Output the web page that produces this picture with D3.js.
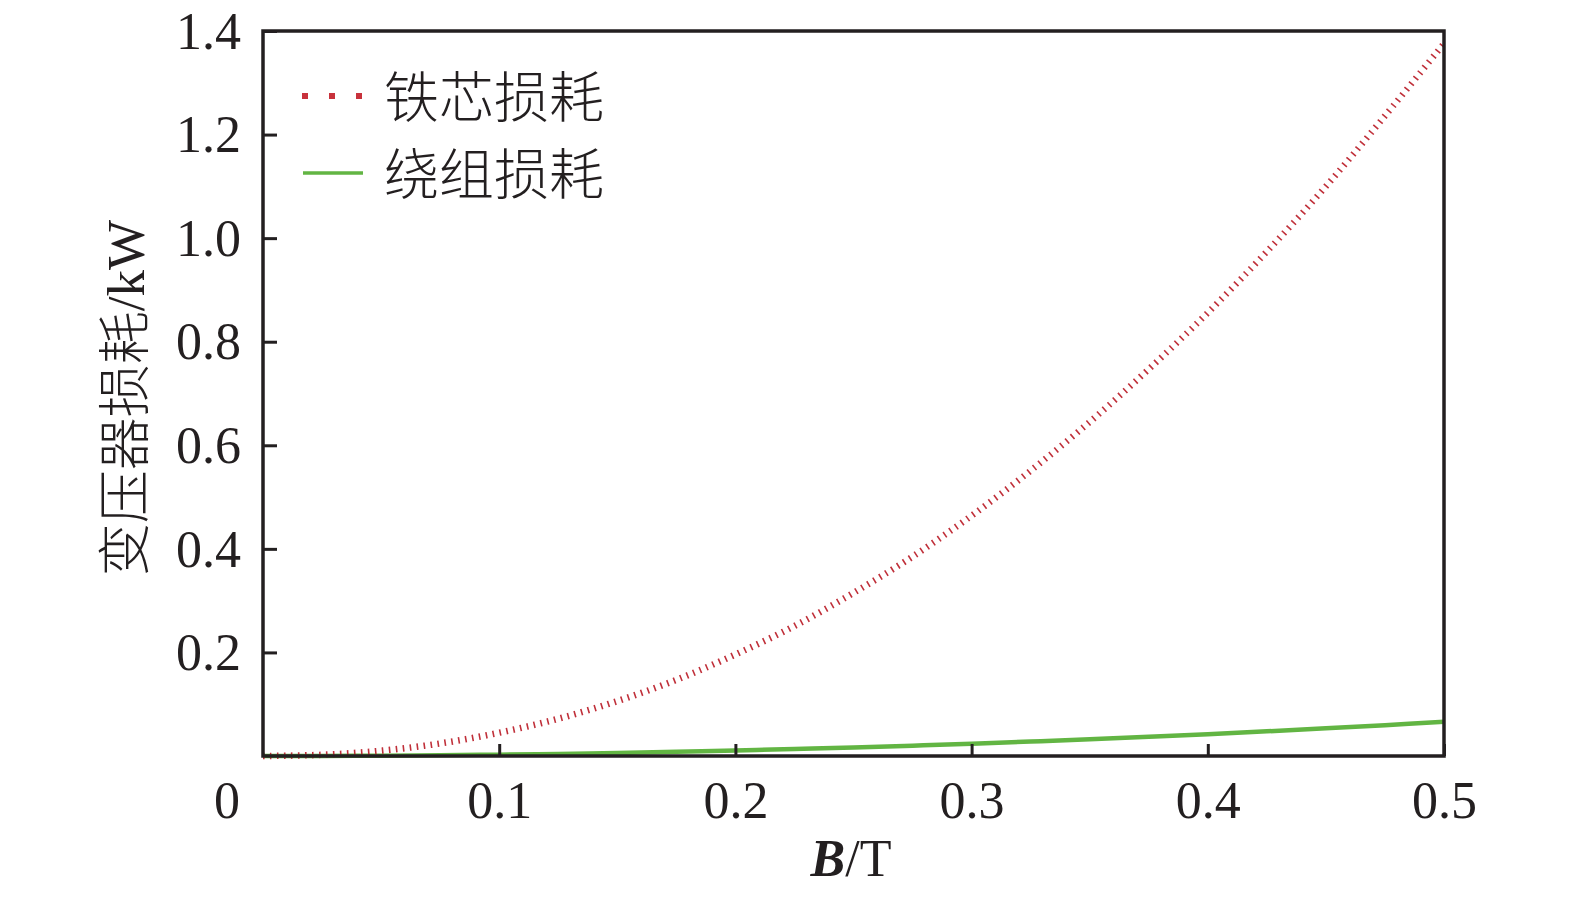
<!DOCTYPE html>
<html><head><meta charset="utf-8">
<script src="https://cdn.jsdelivr.net/npm/d3@7"></script>
<style>body{margin:0;background:#fff}</style>
</head><body>
<svg id="c" width="1575" height="898"></svg>
<script>
const B = [0,0.025,0.05,0.075,0.1,0.125,0.15,0.175,0.2,0.225,0.25,0.275,0.3,0.325,0.35,0.375,0.4,0.425,0.45,0.475,0.5];
const ironLoss = [0,0.0023,0.0102,0.0242,0.045,0.0719,0.106,0.147,0.196,0.251,0.315,0.385,0.464,0.551,0.645,0.747,0.856,0.974,1.100,1.236,1.376];
const windingLoss = [0,0.0002,0.0007,0.0015,0.0026,0.0041,0.0059,0.0081,0.0106,0.0134,0.0165,0.020,0.0238,0.0279,0.0323,0.0371,0.0422,0.0477,0.0535,0.0596,0.066];
const xTicks = [0.1,0.2,0.3,0.4,0.5];
const yTicks = [0.2,0.4,0.6,0.8,1.0,1.2,1.4];
const legendLabels = ["铁芯损耗","绕组损耗"];

const svg = d3.select("#c");
const L=263,R=1444,T=31,Bt=756;
const x = d3.scaleLinear().domain([0,0.5]).range([L,R]);
const y = d3.scaleLinear().domain([0,1.4]).range([Bt,T]);
const serif = "'Liberation Serif','Times New Roman',serif";
const cjk = "'Noto Sans CJK SC',sans-serif";

// curves
const line = d3.line().x((d,i)=>x(B[i])).y(d=>y(d)).curve(d3.curveCatmullRom);
svg.append("path").attr("d",line(windingLoss)).attr("fill","none")
  .attr("stroke","#62b543").attr("stroke-width",4.5);
svg.append("path").attr("d",line(ironLoss)).attr("fill","none")
  .attr("stroke","#c0303a").attr("stroke-width",6.5).attr("stroke-dasharray","1.6,5.4");

// axes
const xAxis = d3.axisBottom(x).tickValues(xTicks).tickSize(-12).tickFormat(d3.format(".1f")).tickPadding(0);
const gx = svg.append("g").attr("transform",`translate(0,${Bt})`).call(xAxis);
gx.select(".domain").remove();
gx.selectAll(".tick line").attr("stroke","#231f20").attr("stroke-width",3);
gx.selectAll(".tick text").attr("font-family",serif).attr("font-size",52).attr("fill","#231f20")
  .attr("y",0).attr("dy",62);

const yAxis = d3.axisLeft(y).tickValues(yTicks).tickSize(-14).tickFormat(d3.format(".1f"));
const gy = svg.append("g").attr("transform",`translate(${L},0)`).call(yAxis);
gy.select(".domain").remove();
gy.selectAll(".tick line").attr("stroke","#231f20").attr("stroke-width",3);
gy.selectAll(".tick text").attr("font-family",serif).attr("font-size",52).attr("fill","#231f20")
  .attr("x",-22).attr("dy","0.33em");

svg.append("text").attr("x",227).attr("y",Bt+62).attr("text-anchor","middle")
  .attr("font-family",serif).attr("font-size",52).attr("fill","#231f20").text("0");

// frame
svg.append("rect").attr("x",L).attr("y",T).attr("width",R-L).attr("height",Bt-T)
  .attr("fill","none").attr("stroke","#231f20").attr("stroke-width",3.5);

// axis titles
const xt = svg.append("text").attr("x",851).attr("y",876).attr("text-anchor","middle")
  .attr("font-family",serif).attr("font-size",52).attr("fill","#231f20");
xt.append("tspan").attr("font-weight","bold").attr("font-style","italic").text("B");
xt.append("tspan").text("/T");

const yt = svg.append("text").attr("transform","translate(144,398) rotate(-90)")
  .attr("text-anchor","middle").attr("fill","#231f20").attr("font-size",53);
yt.append("tspan").attr("font-family",cjk).attr("font-weight",300).text("变压器损耗");
yt.append("tspan").attr("font-family",serif).attr("font-size",53).text("/kW");

// legend
const lg = svg.append("g");
lg.append("line").attr("x1",302).attr("x2",362).attr("y1",96).attr("y2",96)
  .attr("stroke","#c8323c").attr("stroke-width",6).attr("stroke-dasharray","6,21").attr("stroke-dashoffset",0);
lg.append("line").attr("x1",303).attr("x2",363).attr("y1",173).attr("y2",173)
  .attr("stroke","#62b543").attr("stroke-width",3.5);
legendLabels.forEach((t,i)=>{
  lg.append("text").attr("x",384).attr("y",97+i*77).attr("dy","0.36em")
    .attr("font-family",cjk).attr("font-weight",300).attr("font-size",55).attr("fill","#231f20").text(t);
});
</script>
</body></html>
